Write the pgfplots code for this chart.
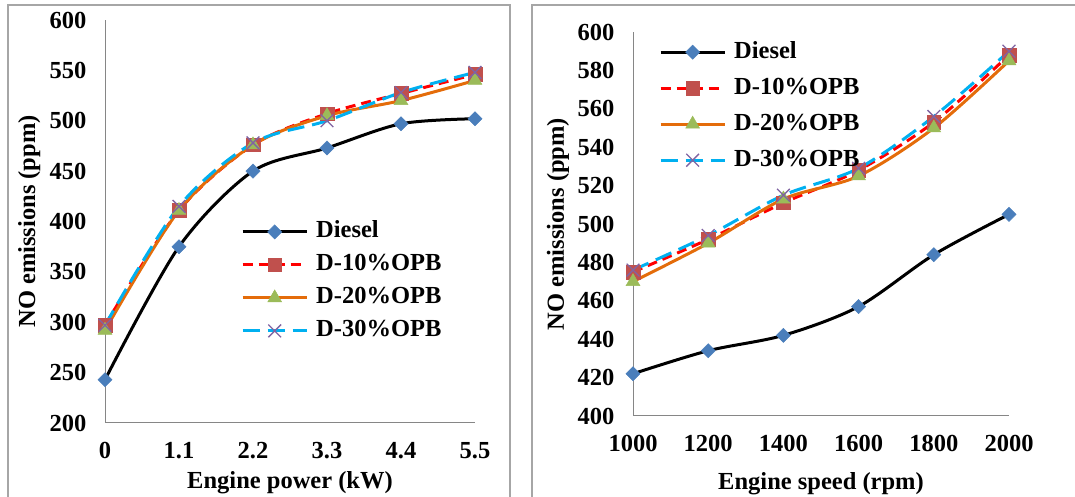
\documentclass[border=0pt]{standalone}
\usepackage{fontspec}
\setmainfont{Liberation Serif}
\usepackage{pgfplots}
\pgfplotsset{compat=1.18}
\definecolor{dblue}{HTML}{4A7EBB}
\definecolor{mred}{HTML}{C0504D}
\definecolor{mgreen}{HTML}{9BBB59}
\definecolor{mpurple}{HTML}{8064A2}
\definecolor{lorange}{HTML}{E46C0A}
\definecolor{lcyan}{HTML}{00B0F0}
\definecolor{axgray}{HTML}{868686}
\definecolor{frgray}{HTML}{A6A6A6}
\pgfplotsset{
  myaxis/.style={
    scale only axis, clip=false,
    axis x line*=bottom, axis y line*=left,
    axis line style={axgray, line width=1pt, -},
    major tick length=0pt,
    /pgf/number format/assume math mode=true,
    tick label style={font=\bfseries\fontsize{24.5}{29}\selectfont},
    label style={font=\bfseries\fontsize{24.5}{29}\selectfont},
    yticklabel style={xshift=-15pt},
    xticklabel style={yshift=-16pt},
    legend cell align=left,
    legend image code/.code={
      \draw[mark repeat=2,mark phase=2,#1] plot coordinates {(0pt,0pt) (32pt,0pt) (64pt,0pt)};
      \path (72pt,0pt);
    },
  },
  sdiesel/.style={black, line width=3pt, smooth, mark=square*, mark size=5pt,
     mark options={solid, fill=dblue, draw=dblue, rotate=45, line width=0.5pt}},
  sten/.style={red, line width=3pt, smooth, dash pattern=on 10pt off 6pt, mark=square*, mark size=6.8pt,
     mark options={solid, fill=mred, draw=mred, line width=0.5pt}},
  stwenty/.style={lorange, line width=3pt, smooth, mark=triangle*, mark size=8pt,
     mark options={solid, fill=mgreen, draw=mgreen, line width=0.5pt}},
  sthirty/.style={lcyan, line width=3pt, smooth, dash pattern=on 17pt off 8pt, mark=x, mark size=9pt,
     mark options={solid, draw=mpurple, line width=1.3pt}},
}
\begin{document}
\begin{tikzpicture}[x=1pt,y=1pt]
\path[use as bounding box] (0,0) rectangle (1075,497);
\clip (0,0) rectangle (1075,497);
\draw[frgray, line width=1.5pt] (8,-10) -- (8,492) -- (510,492) -- (510,-10);
\draw[frgray, line width=1.5pt] (532,-10) -- (532,492) -- (1090,492);
% Left panel
\begin{axis}[myaxis,
  at={(105pt,74pt)}, anchor=south west,
  width=370pt, height=403pt,
  xmin=0, xmax=5.5, ymin=200, ymax=600,
  xtick={0,1.1,2.2,3.3,4.4,5.5},
  xticklabels={0,1.1,2.2,3.3,4.4,5.5},
  ytick={200,250,300,350,400,450,500,550,600},
  yticklabels={200,250,300,350,400,450,500,550,600},
  xlabel={Engine power (kW)},
  ylabel={NO emissions (ppm)},
  xlabel style={at={(axis description cs:0.5,-0.148)}, anchor=center},
  ylabel style={at={(axis description cs:-0.205,0.5)}, anchor=center},
  legend style={at={(axis description cs:0.3676,0.502)}, anchor=north west, draw=none, fill=none,
    inner sep=0pt, row sep=11pt, font=\bfseries\fontsize{24.5}{29}\selectfont,
    nodes={inner sep=0pt, text height=17pt, text depth=5pt}},
]
\addplot[sdiesel] coordinates {(0,243) (1.1,375) (2.2,450) (3.3,473) (4.4,497) (5.5,502)};
\addplot[sten] coordinates {(0,297) (1.1,411) (2.2,476) (3.3,507) (4.4,527) (5.5,546)};
\addplot[stwenty] coordinates {(0,292) (1.1,411) (2.2,476) (3.3,505) (4.4,520) (5.5,540)};
\addplot[sthirty] coordinates {(0,297) (1.1,415) (2.2,478) (3.3,500) (4.4,528) (5.5,548)};
\legend{Diesel,D-10\%OPB,D-20\%OPB,D-30\%OPB}
\end{axis}
% Right panel
\begin{axis}[myaxis,
  at={(633pt,81pt)}, anchor=south west,
  width=376pt, height=384pt,
  xmin=1000, xmax=2000, ymin=400, ymax=600,
  xtick={1000,1200,1400,1600,1800,2000},
  xticklabels={1000,1200,1400,1600,1800,2000},
  ytick={400,420,440,460,480,500,520,540,560,580,600},
  yticklabels={400,420,440,460,480,500,520,540,560,580,600},
  xlabel={Engine speed (rpm)},
  ylabel={NO emissions (ppm)},
  xlabel style={at={(axis description cs:0.5,-0.1775)}, anchor=center},
  ylabel style={at={(axis description cs:-0.1995,0.5)}, anchor=center},
  legend style={at={(axis description cs:0.069,0.9766)}, anchor=north west, draw=none, fill=none,
    inner sep=0pt, row sep=14pt, font=\bfseries\fontsize{24.5}{29}\selectfont,
    nodes={inner sep=0pt, text height=17pt, text depth=5pt}},
]
\addplot[sdiesel] coordinates {(1000,422) (1200,434) (1400,442) (1600,457) (1800,484) (2000,505)};
\addplot[sten] coordinates {(1000,475) (1200,492) (1400,511) (1600,528) (1800,553) (2000,588)};
\addplot[stwenty] coordinates {(1000,470) (1200,490) (1400,513) (1600,525) (1800,550) (2000,585)};
\addplot[sthirty] coordinates {(1000,476) (1200,494) (1400,515) (1600,529) (1800,556) (2000,590)};
\legend{Diesel,D-10\%OPB,D-20\%OPB,D-30\%OPB}
\end{axis}
\end{tikzpicture}
\end{document}
